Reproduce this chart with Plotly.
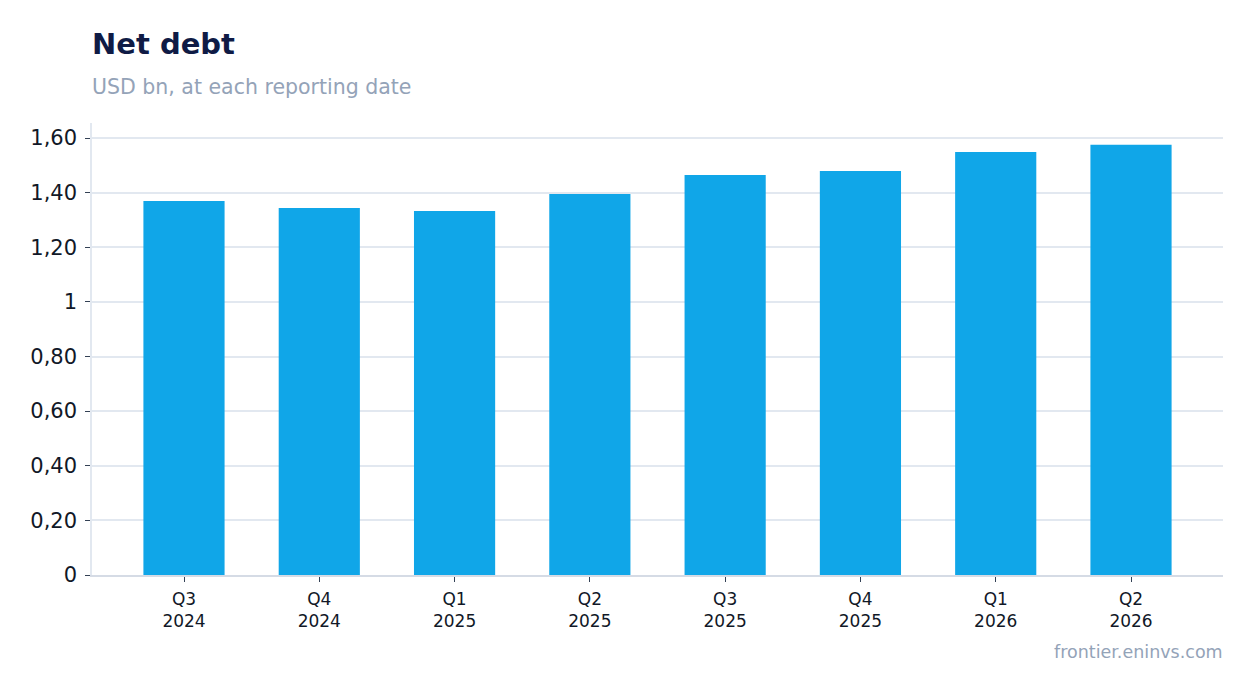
import plotly.graph_objects as go

quarters = ["Q3<br>2024", "Q4<br>2024", "Q1<br>2025", "Q2<br>2025",
            "Q3<br>2025", "Q4<br>2025", "Q1<br>2026", "Q2<br>2026"]
net_debt = [1.369, 1.344, 1.333, 1.395, 1.465, 1.479, 1.549, 1.575]

y_ticks = [0, 0.2, 0.4, 0.6, 0.8, 1.0, 1.2, 1.4, 1.6]
y_tick_text = ["0", "0,20", "0,40", "0,60", "0,80", "1", "1,20", "1,40", "1,60"]

font_family = "DejaVu Sans"

fig = go.Figure(go.Bar(
    x=quarters, y=net_debt,
    marker=dict(color="#10a6e8", line=dict(width=0)),
    width=0.6,
    hoverinfo="x+y",
))

# page body has an 8px margin, so the figure is shrunk a bit to fit the window
fig.update_layout(
    width=1238, height=677,
    margin=dict(l=84, r=23, t=115, b=110),
    paper_bgcolor="white", plot_bgcolor="white",
    font=dict(family=font_family, color="#111827"),
    showlegend=False,
    annotations=[
        dict(text="<b>Net debt</b>", xref="paper", yref="paper", x=0, y=1.0,
             xanchor="left", yanchor="bottom", xshift=-2, yshift=60,
             showarrow=False, font=dict(size=29, color="#0f1b45")),
        dict(text="USD bn, at each reporting date", xref="paper", yref="paper",
             x=0, y=1.0, xanchor="left", yanchor="bottom", xshift=-2, yshift=22,
             showarrow=False, font=dict(size=20.5, color="#94a3b8")),
        dict(text="frontier.eninvs.com", xref="paper", yref="paper", x=1, y=0,
             xanchor="right", yanchor="top", xshift=2, yshift=-65,
             showarrow=False, font=dict(size=17.5, color="#94a3b8")),
    ],
)

fig.update_xaxes(
    range=[-0.68, len(quarters) - 0.32],
    showline=True, linecolor="#d5dbe5", linewidth=1.5,
    ticks="outside", tickcolor="#334155", ticklen=5,
    ticklabelstandoff=3,
    tickfont=dict(size=17, color="#111827"),
    showgrid=False,
)
fig.update_yaxes(
    range=[0, 1.655],
    tickvals=y_ticks, ticktext=y_tick_text,
    showline=True, linecolor="#e2e8f0", linewidth=1.5,
    ticks="outside", tickcolor="#334155", ticklen=5,
    ticklabelstandoff=4,
    tickfont=dict(size=21, color="#111827"),
    showgrid=True, gridcolor="#e2e8f0", gridwidth=1.5,
    zeroline=False,
)

fig.write_html("out.html")
